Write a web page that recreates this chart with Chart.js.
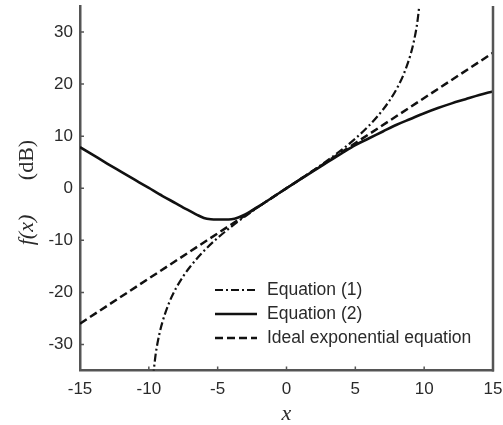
<!DOCTYPE html>
<html>
<head>
<meta charset="utf-8">
<script src="https://cdn.jsdelivr.net/npm/chart.js@4"></script>
<style>
  html, body { margin: 0; padding: 0; background: #fff; }
  #wrap { width: 503px; height: 425px; }
</style>
</head>
<body>
<div id="wrap"><canvas id="c" width="503" height="425"></canvas></div>
<script>
// Equation (1): bilinear approximation, diverges near x = ±10
const eq1X = [-9.7, -9.5, -9.25, -9, -8.5, -8, -7.5, -7, -6, -5, -4, -3, -2, -1, 0, 1, 2, 3, 4, 5, 6, 7, 7.5, 8, 8.5, 9, 9.25, 9.5, 9.7];
const eq1Y = [-36.35, -31.82, -28.19, -25.58, -21.82, -19.08, -16.9, -15.07, -12.04, -9.54, -7.36, -5.38, -3.52, -1.74, 0, 1.74, 3.52, 5.38, 7.36, 9.54, 12.04, 15.07, 16.9, 19.08, 21.82, 25.58, 28.19, 31.82, 36.35];

// Equation (2)
const eq2X = [-15, -14, -13, -12, -11, -10, -9, -8, -7.5, -7, -6.5, -6, -5.5, -5, -4.5, -4, -3.5, -3, -2.5, -2, -1, 0, 1, 2, 3, 4, 5, 6, 7, 8, 9, 10, 11, 12, 13, 14, 15];
const eq2Y = [7.9, 6.3, 4.7, 3.15, 1.6, 0.05, -1.5, -2.95, -3.7, -4.4, -5.1, -5.7, -5.95, -6.0, -6.0, -5.95, -5.6, -5.0, -4.25, -3.45, -1.73, 0, 1.72, 3.4, 5.05, 6.7, 8.3, 9.6, 10.9, 12.2, 13.3, 14.4, 15.4, 16.3, 17.1, 17.9, 18.6];

// Ideal exponential equation (straight line in dB)
const idealX = [-15, 15];
const idealY = [-26.0, 26.0];

const xTicks = [-15, -10, -5, 0, 5, 10, 15];
const yTicks = [-30, -20, -10, 0, 10, 20, 30];
const seriesNames = ['Equation (1)', 'Equation (2)', 'Ideal exponential equation'];

const toPoints = (xs, ys) => xs.map((x, i) => ({ x: x, y: ys[i] }));

const INK = '#111';
const TEXT = '#2a2a2a';
const AXIS = '#555';

// inward tick marks, the right-hand frame line and the inset legend
const decorations = {
  id: 'decorations',
  afterDatasetsDraw(chart) {
    const ctx = chart.ctx;
    const a = chart.chartArea;
    const xs = chart.scales.x, ys = chart.scales.y;
    ctx.save();
    ctx.strokeStyle = AXIS;
    ctx.lineWidth = 1.5;
    ctx.beginPath();
    xTicks.forEach(v => {
      const px = xs.getPixelForValue(v);
      ctx.moveTo(px, a.bottom);
      ctx.lineTo(px, a.bottom - 4);
    });
    yTicks.forEach(v => {
      const py = ys.getPixelForValue(v);
      ctx.moveTo(a.left, py);
      ctx.lineTo(a.left + 4, py);
    });
    ctx.stroke();

    ctx.lineWidth = 2.5;
    ctx.beginPath();
    ctx.moveTo(a.right, a.top);
    ctx.lineTo(a.right, a.bottom + 1);
    ctx.stroke();

    // legend
    const rows = [290, 314, 338];
    chart.data.datasets.forEach((ds, i) => {
      ctx.strokeStyle = ds.borderColor;
      ctx.lineWidth = ds.borderWidth;
      ctx.setLineDash(ds.borderDash || []);
      ctx.beginPath();
      ctx.moveTo(215, rows[i]);
      ctx.lineTo(257, rows[i]);
      ctx.stroke();
      ctx.setLineDash([]);
      ctx.fillStyle = TEXT;
      ctx.font = '17.5px "Liberation Sans", Arial, sans-serif';
      ctx.textAlign = 'left';
      ctx.textBaseline = 'middle';
      ctx.fillText(ds.label, 267, rows[i] + 0.5);
    });

    // axis titles
    ctx.fillStyle = TEXT;
    ctx.textAlign = 'center';
    ctx.textBaseline = 'middle';
    ctx.font = 'italic 22px "Liberation Serif", "Times New Roman", serif';
    ctx.fillText('x', (a.left + a.right) / 2, 414);

    ctx.save();
    ctx.translate(27, 160);
    ctx.rotate(-Math.PI / 2);
    ctx.font = '22px "Liberation Serif", "Times New Roman", serif';
    ctx.fillText('(dB)', 0, 0);
    ctx.restore();

    ctx.save();
    ctx.translate(27, 230);
    ctx.rotate(-Math.PI / 2);
    ctx.font = 'italic 22px "Liberation Serif", "Times New Roman", serif';
    ctx.fillText('f(x)', 0, 0);
    ctx.restore();

    ctx.restore();
  }
};

const tickFont = { family: '"Liberation Sans", Arial, sans-serif', size: 17 };

new Chart(document.getElementById('c'), {
  type: 'scatter',
  data: {
    datasets: [
      {
        label: seriesNames[0],
        data: toPoints(eq1X, eq1Y),
        showLine: true,
        borderColor: INK,
        borderWidth: 2.2,
        borderDash: [8, 3, 2, 3],
        pointRadius: 0,
        tension: 0.3,
        cubicInterpolationMode: 'monotone'
      },
      {
        label: seriesNames[1],
        data: toPoints(eq2X, eq2Y),
        showLine: true,
        borderColor: INK,
        borderWidth: 2.6,
        pointRadius: 0,
        cubicInterpolationMode: 'monotone'
      },
      {
        label: seriesNames[2],
        data: toPoints(idealX, idealY),
        showLine: true,
        borderColor: INK,
        borderWidth: 2.5,
        borderDash: [8, 4],
        pointRadius: 0
      }
    ]
  },
  options: {
    responsive: false,
    animation: false,
    events: [],
    layout: { padding: { top: 6, right: 10, left: 0, bottom: 0 } },
    plugins: { legend: { display: false }, tooltip: { enabled: false } },
    scales: {
      x: {
        type: 'linear',
        min: -15,
        max: 15,
        afterBuildTicks: s => { s.ticks = xTicks.map(v => ({ value: v })); },
        afterFit: s => { s.height = 54.5; s.paddingLeft = 0; s.paddingRight = 0; },
        ticks: { font: tickFont, color: TEXT, padding: 9, maxRotation: 0 },
        grid: { display: true, drawOnChartArea: false, drawTicks: false },
        border: { display: true, color: AXIS, width: 2.5 }
      },
      y: {
        type: 'linear',
        min: -35,
        max: 35,
        afterBuildTicks: s => { s.ticks = yTicks.map(v => ({ value: v })); },
        afterFit: s => { s.width = 80; s.paddingTop = 0; s.paddingBottom = 0; },
        ticks: { font: tickFont, color: TEXT, padding: 7 },
        grid: { display: true, drawOnChartArea: false, drawTicks: false },
        border: { display: true, color: AXIS, width: 2.5 }
      }
    }
  },
  plugins: [decorations]
});
</script>
</body>
</html>
